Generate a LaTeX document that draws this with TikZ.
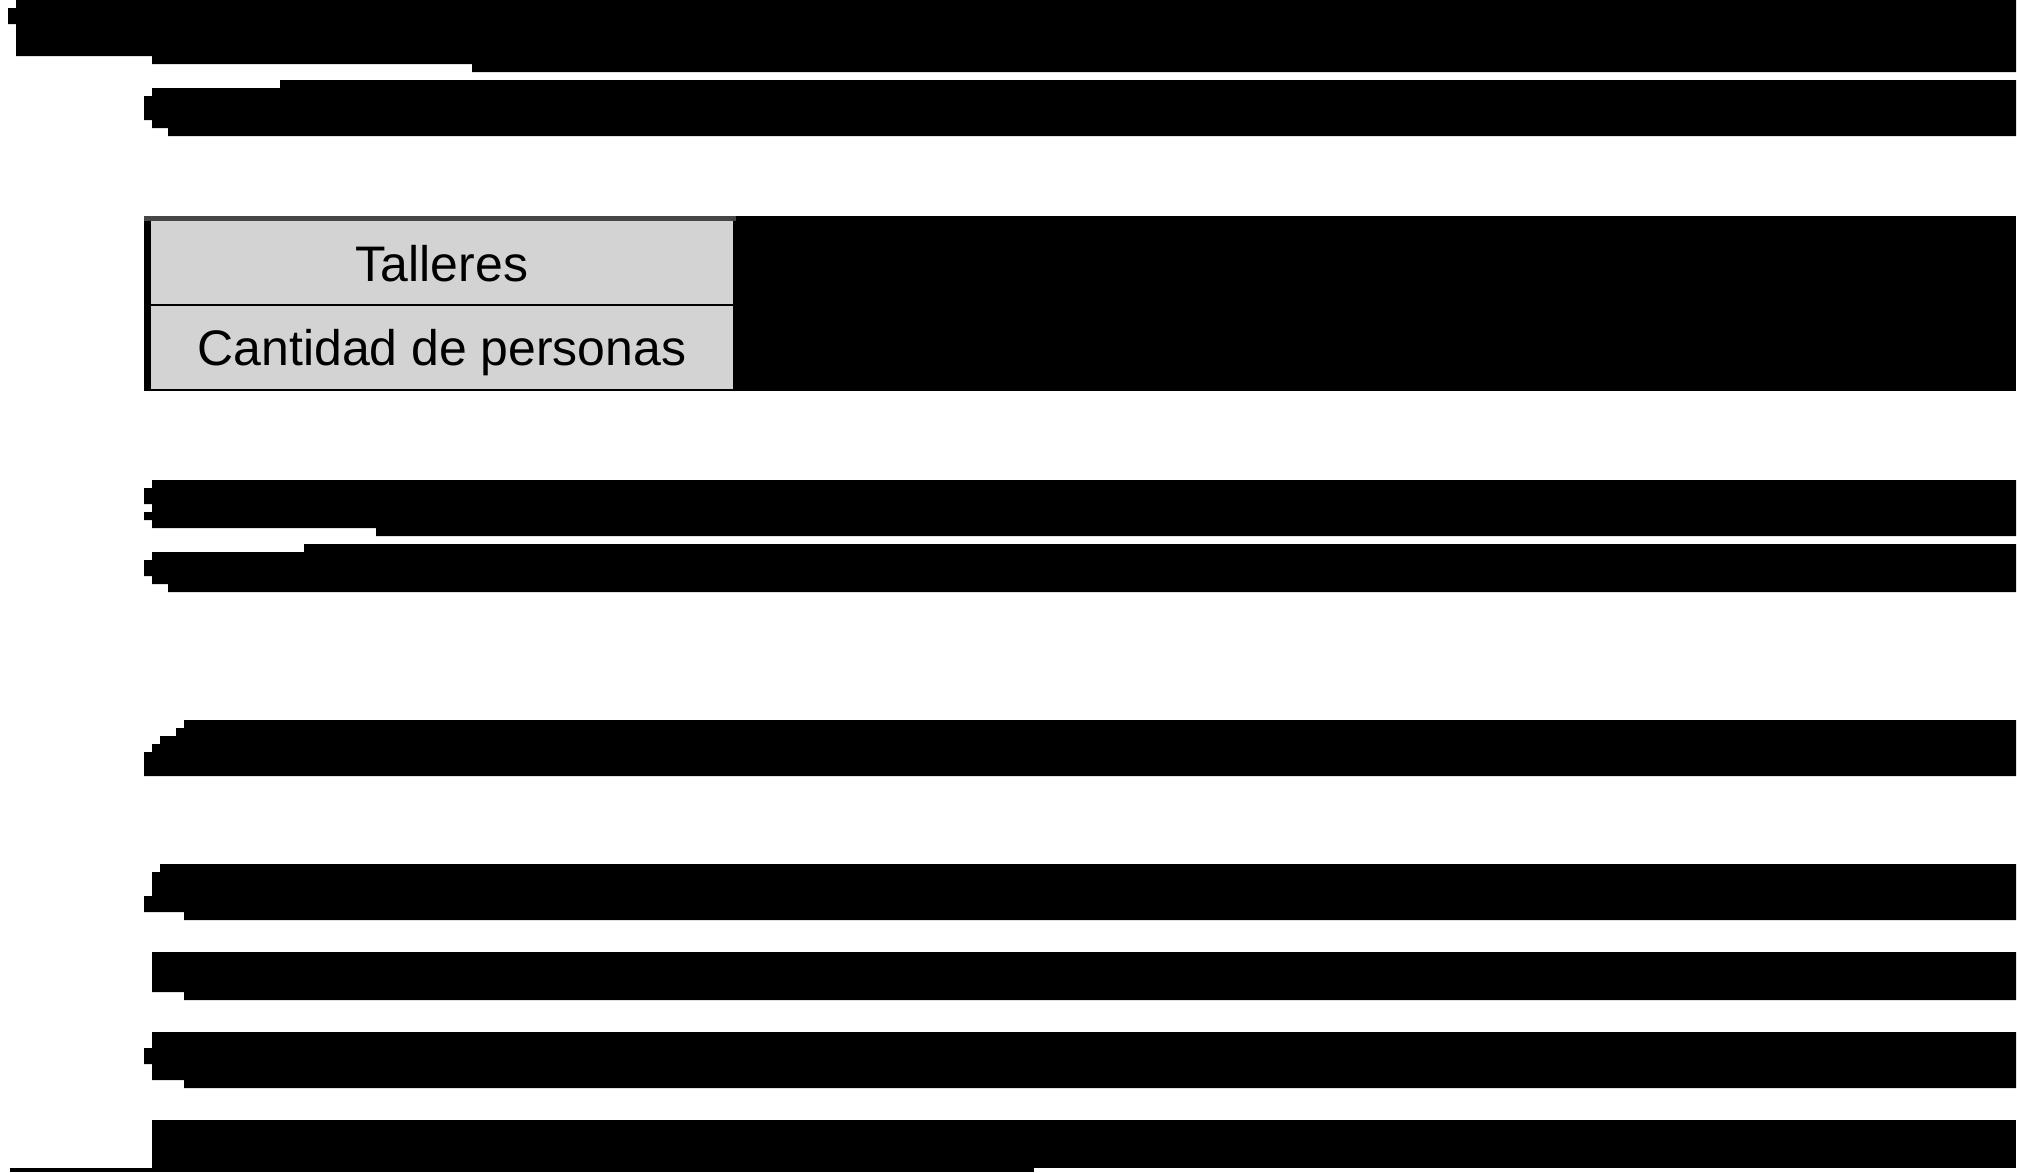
\documentclass[tikz,border=0pt]{standalone}
\usepackage{fontspec}
\setmainfont{Liberation Sans}
\definecolor{cellgray}{RGB}{211,211,211}
\definecolor{rulegray}{RGB}{70,70,70}
\tikzset{
  redact/.style={fill=black},
  celltext/.style={anchor=base,inner sep=0pt,font=\fontsize{14.2}{17}\selectfont}
}
\begin{document}
\begin{tikzpicture}[x=0.01cm,y=-0.01cm]
% one unit = one pixel of the page, y runs down
  \useasboundingbox (0,0) rectangle (2020,1172);
  \pgfmathsetmacro\xr{2016}   % right edge of every bar

% first paragraph
  \fill[redact] (16,0) -- (\xr,0) -- (\xr,72) -- (472,72) -- (472,64) -- (152,64) -- (152,56)
                -- (16,56) -- (16,24) -- (8,24) -- (8,8) -- (16,8) -- cycle;
  \fill[redact] (280,80) -- (\xr,80) -- (\xr,136) -- (168,136) -- (168,128) -- (152,128)
                -- (152,120) -- (144,120) -- (144,96) -- (152,96) -- (152,88) -- (280,88) -- cycle;

% table
  \fill[redact] (144,216) rectangle (\xr,391);
  \fill[rulegray] (144,216) rectangle (736,221);
  \fill[cellgray] (151,221) rectangle (733,389);
  \draw[black,line width=0.02cm] (151,305) -- (733,305);
  \node[celltext] (talleres) at (442,281) {Talleres};
  \node[celltext] (cantidad) at (442,365) {Cantidad de personas};

% second paragraph
  \fill[redact] (152,480) -- (\xr,480) -- (\xr,536) -- (376,536) -- (376,528) -- (152,528)
                -- (152,520) -- (144,520) -- (144,512) -- (152,512) -- (152,504) -- (144,504)
                -- (144,488) -- (152,488) -- cycle;
  \fill[redact] (304,544) -- (\xr,544) -- (\xr,592) -- (168,592) -- (168,584) -- (152,584)
                -- (152,576) -- (144,576) -- (144,560) -- (152,560) -- (152,552) -- (304,552) -- cycle;

% single lines
  \fill[redact] (184,720) -- (\xr,720) -- (\xr,776) -- (144,776) -- (144,752) -- (152,752)
                -- (152,744) -- (160,744) -- (160,736) -- (176,736) -- (176,728) -- (184,728) -- cycle;
  \fill[redact] (160,864) -- (\xr,864) -- (\xr,920) -- (184,920) -- (184,912) -- (144,912)
                -- (144,896) -- (152,896) -- (152,872) -- (160,872) -- cycle;

% last block
  \fill[redact] (152,952) -- (\xr,952) -- (\xr,1000) -- (184,1000) -- (184,992) -- (152,992) -- cycle;
  \fill[redact] (152,1032) -- (\xr,1032) -- (\xr,1088) -- (184,1088) -- (184,1080) -- (152,1080)
                -- (152,1064) -- (144,1064) -- (144,1048) -- (152,1048) -- cycle;
  \fill[redact] (152,1120) rectangle (\xr,1168);
  \fill[redact] (10,1168) rectangle (1034,1172);

\end{tikzpicture}
\end{document}
